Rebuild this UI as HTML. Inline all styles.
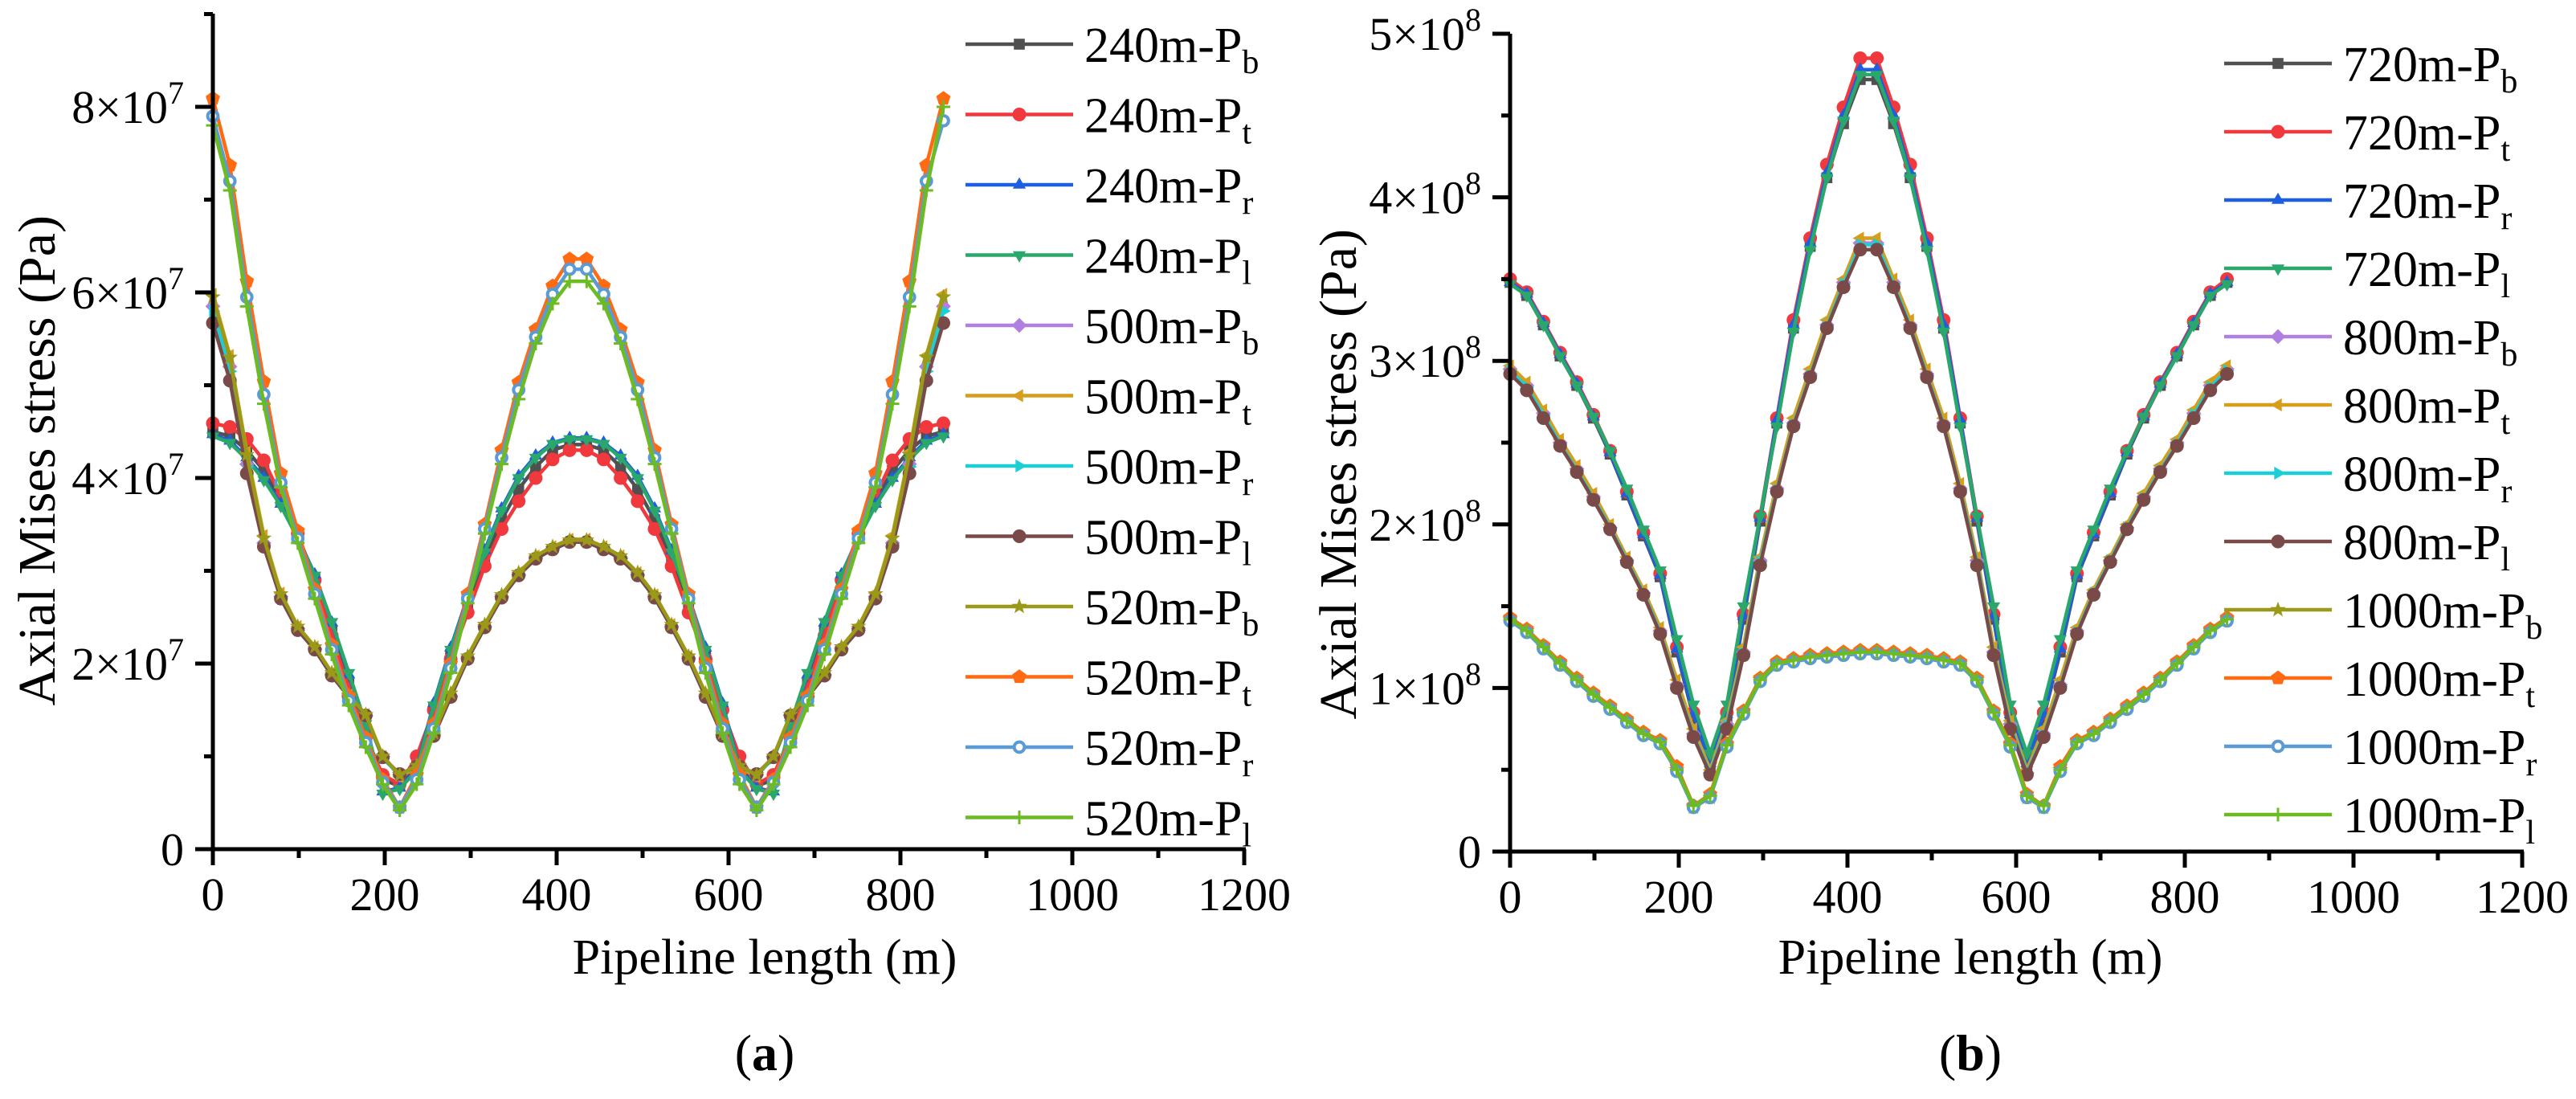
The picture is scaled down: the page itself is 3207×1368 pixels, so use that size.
<!DOCTYPE html>
<html><head><meta charset="utf-8"><style>
html,body{margin:0;padding:0;background:#fff;}
svg, svg text{font-family:"Liberation Serif","DejaVu Serif",serif;}
</style></head><body>
<svg id="fig" width="3207" height="1363" viewBox="0 0 3207 1363" xmlns="http://www.w3.org/2000/svg" font-family="Liberation Serif, DejaVu Serif, serif">
<rect width="3207" height="1363" fill="#fff"/>
<g id="panelA"></g>
<g id="panelB"></g>
<text x="952" y="1332" font-size="64" text-anchor="middle">(<tspan font-weight="bold">a</tspan>)</text>
<text x="2453" y="1332" font-size="64" text-anchor="middle">(<tspan font-weight="bold">b</tspan>)</text>
</svg>
<script>
// ---- shared x positions (m) ----
const xPos = [0,19.8,39.5,59.3,79.1,98.8,118.6,138.4,158.1,177.9,197.7,217.4,237.2,257,276.7,296.5,316.3,336,355.8,375.6,395.3,415.1,434.9,454.7,474.4,494.2,514,533.7,553.5,573.3,593,612.8,632.6,652.3,672.1,691.9,711.6,731.4,751.2,770.9,790.7,810.5,830.2,850];

// ---- panel (a) series, units 1e7 Pa ----
const a240b = [4.5,4.45,4.3,4.08,3.75,3.38,2.92,2.35,1.78,1.25,0.75,0.68,0.95,1.52,2.1,2.62,3.12,3.55,3.88,4.12,4.3,4.36, 4.36,4.3,4.12,3.88,3.55,3.12,2.62,2.1,1.52,0.95,0.68,0.75,1.25,1.78,2.35,2.92,3.38,3.75,4.08,4.3,4.45,4.5];
const a240t = [4.59,4.55,4.42,4.19,3.8,3.4,2.9,2.3,1.73,1.2,0.8,0.7,1.0,1.5,2.05,2.55,3.05,3.45,3.75,4.0,4.2,4.3, 4.3,4.2,4.0,3.75,3.45,3.05,2.55,2.05,1.5,1.0,0.7,0.8,1.2,1.73,2.3,2.9,3.4,3.8,4.19,4.42,4.55,4.59];
const a240r = [4.47,4.4,4.22,4.0,3.72,3.36,2.96,2.44,1.88,1.33,0.62,0.66,0.87,1.57,2.17,2.72,3.22,3.67,4.02,4.24,4.38,4.43, 4.43,4.38,4.24,4.02,3.67,3.22,2.72,2.17,1.57,0.87,0.66,0.62,1.33,1.88,2.44,2.96,3.36,3.72,4.0,4.22,4.4,4.47];
const a240l = [4.45,4.38,4.2,3.98,3.7,3.35,2.95,2.45,1.9,1.35,0.6,0.65,0.85,1.55,2.15,2.7,3.2,3.65,4.0,4.22,4.37,4.42, 4.42,4.37,4.22,4.0,3.65,3.2,2.7,2.15,1.55,0.85,0.65,0.6,1.35,1.9,2.45,2.95,3.35,3.7,3.98,4.2,4.38,4.45];
const a500b = [5.85,5.2,4.15,3.3,2.72,2.38,2.16,1.88,1.65,1.44,1.0,0.8,0.9,1.23,1.65,2.06,2.4,2.72,2.96,3.14,3.24,3.32, 3.32,3.24,3.14,2.96,2.72,2.4,2.06,1.65,1.23,0.9,0.8,1.0,1.44,1.65,1.88,2.16,2.38,2.72,3.3,4.15,5.2,5.85];
const a500t = [5.98,5.32,4.28,3.38,2.76,2.4,2.18,1.9,1.66,1.45,1.0,0.78,0.88,1.24,1.67,2.08,2.42,2.74,2.98,3.16,3.26,3.34, 3.34,3.26,3.16,2.98,2.74,2.42,2.08,1.67,1.24,0.88,0.78,1.0,1.45,1.66,1.9,2.18,2.4,2.76,3.38,4.28,5.32,5.98];
const a500r = [5.8,5.15,4.12,3.28,2.7,2.36,2.15,1.87,1.64,1.43,0.98,0.8,0.89,1.22,1.64,2.05,2.39,2.71,2.95,3.13,3.23,3.31, 3.31,3.23,3.13,2.95,2.71,2.39,2.05,1.64,1.22,0.89,0.8,0.98,1.43,1.64,1.87,2.15,2.36,2.7,3.28,4.12,5.15,5.8];
const a500l = [5.67,5.05,4.05,3.26,2.7,2.36,2.15,1.87,1.64,1.44,0.99,0.81,0.89,1.22,1.64,2.05,2.39,2.71,2.95,3.13,3.23,3.31, 3.31,3.23,3.13,2.95,2.71,2.39,2.05,1.64,1.22,0.89,0.81,0.99,1.44,1.64,1.87,2.15,2.36,2.7,3.26,4.05,5.05,5.67];
const a520b = [5.95,5.3,4.25,3.35,2.75,2.4,2.18,1.9,1.66,1.45,1.0,0.8,0.9,1.25,1.68,2.08,2.42,2.74,2.98,3.16,3.26,3.33, 3.33,3.26,3.16,2.98,2.74,2.42,2.08,1.68,1.25,0.9,0.8,1.0,1.45,1.66,1.9,2.18,2.4,2.75,3.35,4.25,5.3,5.95];
const a520t = [8.09,7.37,6.12,5.04,4.05,3.43,2.8,2.2,1.65,1.2,0.75,0.45,0.8,1.35,2.0,2.75,3.5,4.3,5.03,5.6,6.07,6.36, 6.36,6.07,5.6,5.03,4.3,3.5,2.75,2.0,1.35,0.8,0.45,0.75,1.2,1.65,2.2,2.8,3.43,4.05,5.04,6.12,7.37,8.09];
const a520r = [7.9,7.2,5.95,4.9,3.95,3.35,2.75,2.15,1.6,1.15,0.72,0.45,0.75,1.3,1.95,2.7,3.45,4.22,4.95,5.52,5.98,6.25, 6.25,5.98,5.52,4.95,4.22,3.45,2.7,1.95,1.3,0.75,0.45,0.72,1.15,1.6,2.15,2.75,3.35,3.95,4.9,5.95,7.2,7.85];
const a520l = [7.8,7.1,5.85,4.8,3.9,3.3,2.7,2.1,1.55,1.1,0.7,0.42,0.7,1.25,1.9,2.65,3.4,4.15,4.85,5.45,5.88,6.12, 6.12,5.88,5.45,4.85,4.15,3.4,2.65,1.9,1.25,0.7,0.42,0.7,1.1,1.55,2.1,2.7,3.3,3.9,4.8,5.85,7.1,8.0];

// ---- panel (b) series, units 1e8 Pa ----
const b720b = [3.48,3.4,3.22,3.03,2.85,2.65,2.43,2.18,1.93,1.68,1.22,0.82,0.52,0.82,1.42,2.02,2.62,3.2,3.7,4.12,4.45,4.72, 4.72,4.45,4.12,3.7,3.2,2.62,2.02,1.42,0.82,0.52,0.82,1.22,1.68,1.93,2.18,2.43,2.65,2.85,3.03,3.22,3.4,3.48];
const b720t = [3.5,3.42,3.24,3.05,2.87,2.67,2.45,2.2,1.95,1.7,1.25,0.85,0.55,0.85,1.45,2.05,2.65,3.25,3.75,4.2,4.55,4.85, 4.85,4.55,4.2,3.75,3.25,2.65,2.05,1.45,0.85,0.55,0.85,1.25,1.7,1.95,2.2,2.45,2.67,2.87,3.05,3.24,3.42,3.5];
const b720r = [3.48,3.41,3.23,3.04,2.86,2.66,2.44,2.19,1.94,1.69,1.24,0.84,0.54,0.84,1.44,2.04,2.64,3.22,3.72,4.15,4.5,4.78, 4.78,4.5,4.15,3.72,3.22,2.64,2.04,1.44,0.84,0.54,0.84,1.24,1.69,1.94,2.19,2.44,2.66,2.86,3.04,3.23,3.41,3.48];
const b720l = [3.47,3.4,3.22,3.03,2.85,2.66,2.45,2.22,1.97,1.72,1.3,0.9,0.6,0.9,1.5,2.05,2.6,3.18,3.68,4.12,4.47,4.75, 4.75,4.47,4.12,3.68,3.18,2.6,2.05,1.5,0.9,0.6,0.9,1.3,1.72,1.97,2.22,2.45,2.66,2.85,3.03,3.22,3.4,3.47];
const b800b = [2.95,2.85,2.68,2.5,2.34,2.17,1.98,1.78,1.58,1.35,1.02,0.72,0.48,0.78,1.22,1.78,2.22,2.62,2.92,3.22,3.48,3.72, 3.72,3.48,3.22,2.92,2.62,2.22,1.78,1.22,0.78,0.48,0.72,1.02,1.35,1.58,1.78,1.98,2.17,2.34,2.5,2.68,2.85,2.95];
const b800t = [2.97,2.87,2.7,2.52,2.36,2.19,2.0,1.8,1.6,1.37,1.05,0.75,0.5,0.8,1.25,1.8,2.25,2.65,2.95,3.25,3.5,3.75, 3.75,3.5,3.25,2.95,2.65,2.25,1.8,1.25,0.8,0.5,0.75,1.05,1.37,1.6,1.8,2.0,2.19,2.36,2.52,2.7,2.87,2.97];
const b800r = [2.94,2.84,2.67,2.49,2.33,2.16,1.98,1.78,1.58,1.34,1.01,0.71,0.48,0.77,1.21,1.77,2.21,2.61,2.91,3.21,3.47,3.71, 3.71,3.47,3.21,2.91,2.61,2.21,1.77,1.21,0.77,0.48,0.71,1.01,1.34,1.58,1.78,1.98,2.16,2.33,2.49,2.67,2.84,2.94];
const b800l = [2.92,2.82,2.65,2.48,2.32,2.15,1.97,1.77,1.57,1.33,1.0,0.7,0.47,0.75,1.2,1.75,2.2,2.6,2.9,3.2,3.45,3.68, 3.68,3.45,3.2,2.9,2.6,2.2,1.75,1.2,0.75,0.47,0.7,1.0,1.33,1.57,1.77,1.97,2.15,2.32,2.48,2.65,2.82,2.92];
const b1000b = [1.42,1.35,1.25,1.15,1.05,0.96,0.88,0.8,0.72,0.67,0.5,0.27,0.33,0.65,0.85,1.05,1.15,1.17,1.19,1.2,1.21,1.22, 1.22,1.21,1.2,1.19,1.17,1.15,1.05,0.85,0.65,0.33,0.27,0.5,0.67,0.72,0.8,0.88,0.96,1.05,1.15,1.25,1.35,1.42];
const b1000t = [1.43,1.36,1.26,1.16,1.06,0.97,0.89,0.81,0.73,0.68,0.52,0.28,0.35,0.66,0.86,1.06,1.16,1.18,1.2,1.21,1.22,1.23, 1.23,1.22,1.21,1.2,1.18,1.16,1.06,0.86,0.66,0.35,0.28,0.52,0.68,0.73,0.81,0.89,0.97,1.06,1.16,1.26,1.36,1.43];
const b1000r = [1.41,1.34,1.24,1.14,1.04,0.95,0.87,0.79,0.71,0.66,0.49,0.27,0.33,0.64,0.84,1.04,1.14,1.16,1.18,1.19,1.2,1.21, 1.21,1.2,1.19,1.18,1.16,1.14,1.04,0.84,0.64,0.33,0.27,0.49,0.66,0.71,0.79,0.87,0.95,1.04,1.14,1.24,1.34,1.41];
const b1000l = [1.42,1.35,1.25,1.15,1.05,0.96,0.88,0.8,0.72,0.67,0.5,0.28,0.34,0.65,0.85,1.05,1.15,1.17,1.19,1.2,1.21,1.22, 1.22,1.21,1.2,1.19,1.17,1.15,1.05,0.85,0.65,0.34,0.28,0.5,0.67,0.72,0.8,0.88,0.96,1.05,1.15,1.25,1.35,1.42];

// ---- labels / ticks ----
const xTicks = [0,200,400,600,800,1000,1200];
const aYTicks = [0,2,4,6,8];
const bYTicks = [0,1,2,3,4,5];
const aNames = ["240m","240m","240m","240m","500m","500m","500m","500m","520m","520m","520m","520m"];
const bNames = ["720m","720m","720m","720m","800m","800m","800m","800m","1000m","1000m","1000m","1000m"];
const subs = ["b","t","r","l","b","t","r","l","b","t","r","l"];
const aSeries = [a240b,a240t,a240r,a240l,a500b,a500t,a500r,a500l,a520b,a520t,a520r,a520l];
const bSeries = [b720b,b720t,b720r,b720l,b800b,b800t,b800r,b800l,b1000b,b1000t,b1000r,b1000l];

const styles = [
 {c:"#505050",m:"square"},{c:"#f0383d",m:"circle"},{c:"#1d5fe0",m:"triup"},{c:"#2aa86b",m:"tridown"},
 {c:"#b07fe0",m:"diamond"},{c:"#d69e1a",m:"trileft"},{c:"#1ccfd6",m:"triright"},{c:"#7a4a48",m:"hex"},
 {c:"#9a9a18",m:"star"},{c:"#ff6a12",m:"pent"},{c:"#5b9bd5",m:"ocircle"},{c:"#6cbb22",m:"plus"}
];
const NS="http://www.w3.org/2000/svg";
function mk(tag,attrs,parent){const e=document.createElementNS(NS,tag);for(const k in attrs)e.setAttribute(k,attrs[k]);parent.appendChild(e);return e;}
function poly(cx,cy,r,n,rot){let p=[];for(let i=0;i<n;i++){const a=rot+i*2*Math.PI/n;p.push((cx+r*Math.cos(a)).toFixed(1)+","+(cy+r*Math.sin(a)).toFixed(1));}return p.join(" ");}
function marker(g,type,cx,cy,col){
  const r=8.5;let e;
  if(type==="square")e=mk("rect",{x:cx-r*0.8,y:cy-r*0.8,width:r*1.6,height:r*1.6,fill:col},g);
  else if(type==="circle"||type==="hex")e=mk("circle",{cx:cx,cy:cy,r:r,fill:col},g);
  else if(type==="ocircle")e=mk("circle",{cx:cx,cy:cy,r:r*0.75,fill:"#fff",stroke:col,"stroke-width":4},g);
  else if(type==="triup")e=mk("polygon",{points:poly(cx,cy,r*1.1,3,-Math.PI/2),fill:col},g);
  else if(type==="tridown")e=mk("polygon",{points:poly(cx,cy,r*1.1,3,Math.PI/2),fill:col},g);
  else if(type==="trileft")e=mk("polygon",{points:poly(cx,cy,r*1.1,3,Math.PI),fill:col},g);
  else if(type==="triright")e=mk("polygon",{points:poly(cx,cy,r*1.1,3,0),fill:col},g);
  else if(type==="diamond")e=mk("polygon",{points:poly(cx,cy,r*1.1,4,0),fill:col},g);
  else if(type==="pent")e=mk("polygon",{points:poly(cx,cy,r*1.1,5,-Math.PI/2),fill:col},g);
  else if(type==="star"){let p=[];for(let i=0;i<10;i++){const a=-Math.PI/2+i*Math.PI/5;const rr=i%2?r*0.5:r*1.2;p.push((cx+rr*Math.cos(a)).toFixed(1)+","+(cy+rr*Math.sin(a)).toFixed(1));}e=mk("polygon",{points:p.join(" "),fill:col},g);}
  else {e=mk("path",{d:`M${cx-r} ${cy}H${cx+r}M${cx} ${cy-r}V${cy+r}`,stroke:col,"stroke-width":3},g);}
  
  
}

function drawPanel(cfg){
  const g=document.getElementById(cfg.id);
  const X=v=>cfg.x0+(v/1200)*(cfg.x1-cfg.x0);
  const Y=v=>cfg.y0-v*cfg.unit;
  cfg.series.forEach((s,si)=>{
    const st=styles[si];
    const sg=mk("g",{},g);
    
    
    const pts=s.map((v,i)=>X(xPos[i]).toFixed(1)+","+Y(v).toFixed(1)).join(" ");
    const pl=mk("polyline",{points:pts,fill:"none",stroke:st.c,"stroke-width":4.5,"stroke-linejoin":"round"},sg);
    
    
    s.forEach((v,i)=>marker(sg,st.m,X(xPos[i]),Y(v),st.c));
  });
  const ax=mk("g",{stroke:"#000","stroke-width":5,fill:"none"},g);
  
  
  mk("line",{x1:cfg.x0,y1:cfg.y0,x2:cfg.x0,y2:cfg.yTop},ax);
  mk("line",{x1:cfg.x0-22,y1:cfg.y0,x2:cfg.x1+2,y2:cfg.y0},ax);
  xTicks.forEach((t,i)=>{
    mk("line",{x1:X(t),y1:cfg.y0,x2:X(t),y2:cfg.y0+20},ax);
    if(i<xTicks.length-1)mk("line",{x1:X(t+100),y1:cfg.y0,x2:X(t+100),y2:cfg.y0+11},ax);
    const tx=mk("text",{x:X(t),y:cfg.y0+76,"font-size":58,"text-anchor":"middle",fill:"#000",stroke:"none"},g);
    tx.textContent=t;
    
    
  });
  cfg.yTicks.forEach((t,i)=>{
    mk("line",{x1:cfg.x0-22,y1:Y(t),x2:cfg.x0,y2:Y(t)},ax);
    mk("line",{x1:cfg.x0-11,y1:Y(t+cfg.step/2),x2:cfg.x0,y2:Y(t+cfg.step/2)},ax);
    const tx=mk("text",{x:cfg.x0-36,y:Y(t)+20,"font-size":58,"text-anchor":"end",fill:"#000",stroke:"none"},g);
    if(t===0){tx.textContent="0";}
    else{tx.textContent=t+"\u00d710";const sp=mk("tspan",{"font-size":40,dy:-24},tx);sp.textContent=cfg.exp;}
    
    
  });
  const xt=mk("text",{x:cfg.xTitleX,y:1212,"font-size":62,"text-anchor":"middle",fill:"#000"},g);
  xt.textContent="Pipeline length (m)";
  
  
  const yt=mk("text",{x:0,y:0,"font-size":66,"text-anchor":"end",fill:"#000",transform:`translate(${cfg.yTitleX},${cfg.yTitleEnd}) rotate(-90)`},g);
  yt.textContent="Axial Mises stress (Pa)";
  
  
  const lg=mk("g",{},g);
  
  
  cfg.names.forEach((n,i)=>{
    const y=cfg.legY+i*cfg.legStep;
    const eg=mk("g",{},lg);
    
    
    mk("line",{x1:cfg.legX,y1:y,x2:cfg.legX+134,y2:y,stroke:styles[i].c,"stroke-width":4.5},eg);
    marker(eg,styles[i].m,cfg.legX+67,y,styles[i].c);
    const t=mk("text",{x:cfg.legX+148,y:y+22,"font-size":62,fill:"#000"},eg);
    t.textContent=n+"-P";
    const sb=mk("tspan",{"font-size":42,dy:14},t);sb.textContent=subs[i];
  });
}
drawPanel({id:"panelA",x0:265,x1:1549,y0:1057,yTop:17,unit:115.5,yTicks:aYTicks,step:2,exp:"7",series:aSeries,names:aNames,
  xTitleX:952,yTitleX:68,yTitleEnd:268,legX:1202,legY:55,legStep:87.5});
drawPanel({id:"panelB",x0:1880,x1:3140,y0:1060,yTop:42,unit:203.6,yTicks:bYTicks,step:1,exp:"8",series:bSeries,names:bNames,
  xTitleX:2453,yTitleX:1688,yTitleEnd:285,legX:2769,legY:79,legStep:85});
</script>
</body></html>
